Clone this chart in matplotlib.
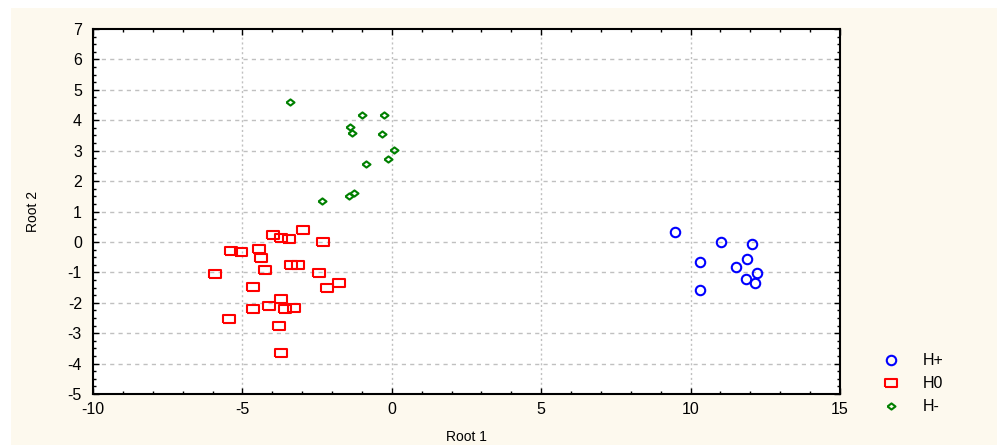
import matplotlib.pyplot as plt
from matplotlib.patches import Rectangle
from matplotlib.ticker import MultipleLocator

plt.rcParams['font.family'] = ['Liberation Sans', 'DejaVu Sans']
plt.rcParams['axes.unicode_minus'] = False

# H+ group
hp_x = [9.49, 11.03, 12.04, 10.30, 11.90, 11.51, 12.22, 11.84, 12.17, 10.30]
hp_y = [0.31, -0.01, -0.06, -0.66, -0.56, -0.83, -1.02, -1.21, -1.34, -1.57]

# H0 group
h0_x = [-2.98, -3.98, -3.72, -3.45, -2.31, -5.38, -5.04, -4.44, -4.38, -3.39,
        -3.15, -4.25, -5.91, -2.44, -1.77, -2.18, -4.64, -3.71, -4.10, -4.66,
        -3.59, -3.28, -5.46, -3.78, -3.71]
h0_y = [0.40, 0.22, 0.13, 0.09, -0.01, -0.29, -0.33, -0.24, -0.52, -0.75,
        -0.75, -0.92, -1.06, -1.02, -1.34, -1.52, -1.48, -1.88, -2.11, -2.21,
        -2.20, -2.17, -2.53, -2.76, -3.64]

# H- group
hm_x = [-3.41, -1.00, -0.27, -1.40, -1.34, -0.33, 0.07, -0.13, -0.87, -1.27,
        -1.44, -2.34]
hm_y = [4.60, 4.18, 4.18, 3.78, 3.59, 3.55, 3.03, 2.73, 2.57, 1.61,
        1.51, 1.35]

labels = ['H+', 'H0', 'H-']

rect = [(-1.35, -1), (1.35, -1), (1.35, 1), (-1.35, 1), (-1.35, -1)]
diam = [(-1.3, 0), (0, -1), (1.3, 0), (0, 1), (-1.3, 0)]

fig = plt.figure(figsize=(9.97, 4.47), dpi=100)
fig.patches.append(Rectangle((11 / 997, 2 / 447), 986 / 997, 437 / 447,
                             transform=fig.transFigure, facecolor='#fdf9ee',
                             edgecolor='none', zorder=-10))

ax = fig.add_axes([93 / 997, 53 / 447, 747 / 997, 365 / 447])
ax.set_zorder(5)
ax.set_facecolor('white')

ax.plot(hp_x, hp_y, linestyle='none', marker='o', markersize=6.8,
        markerfacecolor='none', markeredgecolor='#0000ff', markeredgewidth=1.5,
        label=labels[0])
ax.plot(h0_x, h0_y, linestyle='none', marker=rect, markersize=8,
        markerfacecolor='none', markeredgecolor='#ff0000', markeredgewidth=1.5,
        label=labels[1])
ax.plot(hm_x, hm_y, linestyle='none', marker=diam, markersize=5.8,
        markerfacecolor='none', markeredgecolor='#008000', markeredgewidth=1.5,
        label=labels[2])

ax.set_xlim(-10, 15)
ax.set_ylim(-5, 7)
ax.xaxis.set_major_locator(MultipleLocator(5))
ax.xaxis.set_minor_locator(MultipleLocator(1))
ax.yaxis.set_major_locator(MultipleLocator(1))
ax.yaxis.set_minor_locator(MultipleLocator(0.25))
ax.tick_params(which='both', direction='in', top=True, right=True,
               labelsize=11.5, width=1)
ax.tick_params(which='major', length=4)
ax.tick_params(which='minor', length=2.5)
ax.tick_params(axis='x', pad=6)
ax.tick_params(axis='y', pad=8)

for v in range(-5, 15, 5):
    ax.axvline(v, color='#c0c0c0', lw=1, linestyle=(0, (1.5, 2)), zorder=0)
for v in range(-4, 7):
    ax.axhline(v, color='#c0c0c0', lw=1, linestyle=(0, (3, 3)), zorder=0)

for s in ax.spines.values():
    s.set_linewidth(1.5)

ax.set_xlabel('Root 1', fontsize=10, labelpad=9)
ax.set_ylabel('Root 2', fontsize=10, labelpad=20)

leg = fig.legend(loc='upper left', bbox_to_anchor=(865 / 997, 1 - 339 / 447),
                 frameon=False, fontsize=11.5, handletextpad=1.2,
                 labelspacing=0.5, handlelength=1.5)

fig.savefig('out.png', dpi=100, facecolor='white')
